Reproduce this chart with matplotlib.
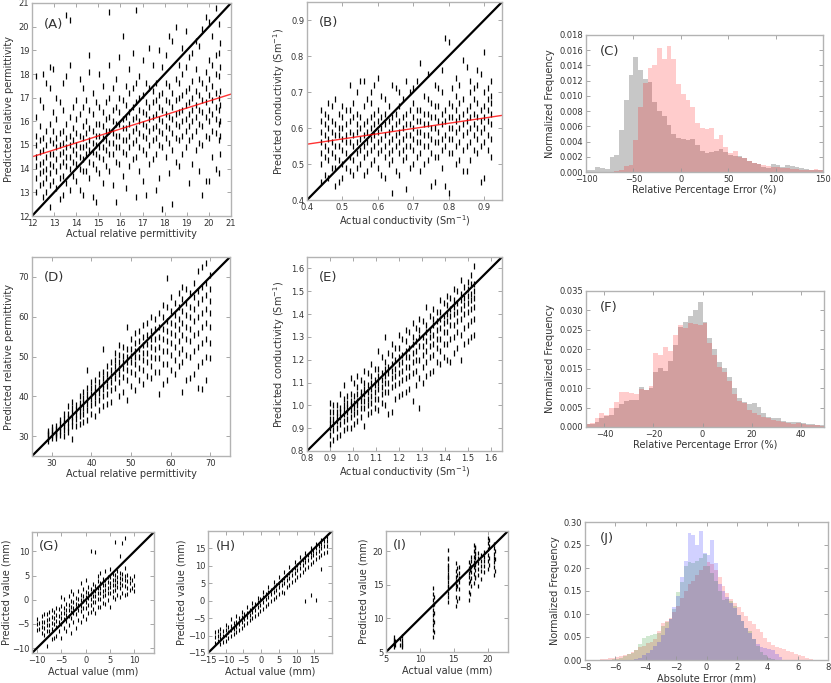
import numpy as np
import matplotlib
matplotlib.use('Agg')
import matplotlib.pyplot as plt

# ---------------------------------------------------------------------
# Values
# ---------------------------------------------------------------------

# (A) relative permittivity, model 1: columns of actual values and predicted values
a_cols = [12.2, 12.5, 12.8, 13.1, 13.4, 13.7, 14.0, 14.3, 14.6, 14.9, 15.2, 15.5, 15.8, 16.1, 16.4,
          16.7, 17.0, 17.3, 17.6, 17.9, 18.2, 18.5, 18.8, 19.1, 19.4, 19.7, 20.0, 20.3, 20.5,
          12.35, 12.65, 12.95, 13.25, 13.55, 13.85, 14.15, 14.45, 14.75, 15.05, 15.35, 15.65,
          15.95, 16.25, 16.55, 16.85, 17.15, 17.45, 17.75, 18.05, 18.35, 18.65, 18.95, 19.25,
          19.55, 19.85, 20.15, 20.45]
a_vals = [[13.0, 13.6, 14.1, 14.5, 15.0, 15.4, 16.2, 17.9],
          [12.8, 13.4, 13.9, 14.3, 14.8, 15.3, 16.6, 18.0],
          [12.4, 13.3, 13.8, 14.2, 14.6, 15.2, 15.9, 17.4, 18.3],
          [13.2, 13.9, 14.4, 14.9, 15.3, 16.1, 17.0],
          [12.9, 13.7, 14.3, 14.7, 15.1, 15.6, 16.5, 17.6],
          [13.1, 14.0, 14.5, 15.0, 15.4, 16.2, 18.4, 20.3],
          [13.5, 14.2, 14.6, 15.0, 15.5, 16.1, 16.9],
          [12.9, 13.9, 14.4, 14.9, 15.3, 15.8, 16.6, 17.4],
          [13.6, 14.3, 14.8, 15.2, 15.7, 16.5, 18.1, 18.8],
          [12.6, 14.0, 14.6, 15.0, 15.4, 15.9, 16.8],
          [13.4, 14.4, 14.9, 15.3, 15.8, 16.4, 17.5],
          [13.9, 14.6, 15.1, 15.6, 16.2, 17.0, 18.4, 20.6],
          [12.6, 14.3, 14.9, 15.4, 15.9, 16.6, 17.8],
          [13.7, 14.7, 15.2, 15.7, 16.1, 16.9, 19.6],
          [14.1, 14.9, 15.4, 15.9, 16.4, 17.2, 18.2],
          [12.8, 14.5, 15.2, 15.7, 16.2, 16.8, 17.6, 20.7],
          [13.5, 14.8, 15.4, 15.9, 16.4, 17.1, 18.6],
          [14.2, 15.0, 15.6, 16.1, 16.6, 17.4, 19.1],
          [13.1, 14.6, 15.3, 15.8, 16.3, 16.9, 17.6],
          [12.3, 14.9, 15.5, 16.0, 16.5, 17.2, 18.3],
          [13.8, 15.1, 15.7, 16.2, 16.8, 17.5, 19.6],
          [14.3, 15.3, 15.9, 16.3, 16.9, 17.8, 20.0],
          [14.6, 15.4, 16.0, 16.5, 17.1, 18.0, 19.1],
          [13.4, 15.2, 15.8, 16.3, 16.8, 17.4, 18.7],
          [14.8, 15.6, 16.2, 16.7, 17.3, 18.2, 19.4],
          [12.9, 15.0, 15.8, 16.4, 16.9, 17.6, 19.9],
          [13.5, 15.3, 16.0, 16.5, 17.1, 17.8, 18.6, 20.2],
          [14.0, 15.5, 16.1, 16.6, 17.2, 18.0, 18.8, 20.8],
          [14.6, 15.4, 16.0, 16.7, 17.3, 18.3, 19.3],
          [13.3, 13.8, 14.2, 14.7, 15.2, 15.8, 16.9],
          [13.0, 13.6, 14.0, 14.5, 15.0, 15.6, 17.6],
          [13.5, 14.1, 14.6, 15.1, 15.6, 16.4, 18.2],
          [12.7, 13.6, 14.1, 14.6, 15.0, 15.5, 16.8],
          [13.4, 14.1, 14.5, 14.9, 15.3, 15.9, 17.9, 20.5],
          [13.7, 14.3, 14.8, 15.2, 15.7, 16.6],
          [13.1, 14.0, 14.5, 14.9, 15.4, 16.3, 17.8],
          [13.9, 14.6, 15.0, 15.5, 16.0, 16.9],
          [12.8, 14.2, 14.7, 15.1, 15.6, 16.3, 17.2],
          [13.8, 14.5, 14.9, 15.4, 15.9, 16.6, 18.0],
          [14.1, 14.8, 15.2, 15.6, 16.1, 16.8],
          [13.3, 14.6, 15.1, 15.5, 16.0, 16.5, 17.4],
          [14.2, 14.9, 15.4, 15.9, 16.4, 17.0, 18.7],
          [13.2, 14.6, 15.2, 15.7, 16.2, 16.7, 17.5],
          [14.4, 15.1, 15.6, 16.1, 16.6, 17.4, 18.9],
          [13.9, 14.9, 15.5, 16.0, 16.5, 17.0, 17.9],
          [12.9, 14.6, 15.3, 15.8, 16.3, 16.8, 17.6],
          [14.4, 15.2, 15.7, 16.2, 16.8, 17.3, 18.4],
          [13.6, 15.0, 15.6, 16.1, 16.6, 17.1, 19.0],
          [14.5, 15.3, 15.8, 16.3, 16.9, 17.6, 18.8],
          [12.5, 14.8, 15.5, 16.1, 16.6, 17.2, 19.4],
          [14.1, 15.2, 15.8, 16.4, 17.0, 17.6, 18.4],
          [14.9, 15.6, 16.1, 16.7, 17.3, 18.3, 19.8],
          [14.2, 15.4, 16.0, 16.5, 17.0, 17.7, 18.9],
          [13.9, 15.1, 15.9, 16.5, 17.1, 17.8, 19.2],
          [13.5, 15.4, 16.2, 16.8, 17.4, 18.1, 20.4],
          [14.5, 15.6, 16.3, 16.9, 17.5, 18.4, 19.6],
          [13.8, 15.2, 15.9, 16.5, 17.0, 17.9, 18.9, 20.1]]
a_fit = [14.5, 17.15]   # red fit line at x = 12 and x = 21

# (B) conductivity, model 1
b_cols = [0.44, 0.46, 0.48, 0.50, 0.52, 0.54, 0.56, 0.58, 0.60, 0.62, 0.64, 0.66, 0.68,
          0.70, 0.72, 0.74, 0.76, 0.78, 0.80, 0.82, 0.84, 0.86, 0.88, 0.90, 0.92,
          0.45, 0.47, 0.49, 0.51, 0.53, 0.55, 0.57, 0.59, 0.61, 0.63, 0.65, 0.67,
          0.69, 0.71, 0.73, 0.75, 0.77, 0.79, 0.81, 0.83, 0.85, 0.87, 0.89, 0.91]
b_vals = [[0.45, 0.50, 0.53, 0.56, 0.59, 0.62, 0.65],
          [0.46, 0.51, 0.54, 0.57, 0.60, 0.63, 0.67],
          [0.44, 0.49, 0.52, 0.55, 0.58, 0.61, 0.68],
          [0.46, 0.50, 0.54, 0.57, 0.60, 0.63, 0.66],
          [0.48, 0.52, 0.56, 0.59, 0.62, 0.65, 0.72],
          [0.49, 0.53, 0.56, 0.59, 0.61, 0.64, 0.70],
          [0.47, 0.52, 0.55, 0.58, 0.61, 0.66, 0.73],
          [0.50, 0.54, 0.57, 0.60, 0.63, 0.67, 0.70],
          [0.49, 0.53, 0.56, 0.59, 0.62, 0.65, 0.74],
          [0.46, 0.52, 0.55, 0.58, 0.61, 0.64, 0.68],
          [0.42, 0.51, 0.54, 0.57, 0.60, 0.63, 0.72],
          [0.47, 0.53, 0.56, 0.59, 0.62, 0.66, 0.70],
          [0.43, 0.52, 0.55, 0.58, 0.61, 0.64, 0.73],
          [0.50, 0.54, 0.57, 0.60, 0.63, 0.67, 0.71],
          [0.48, 0.53, 0.56, 0.59, 0.62, 0.65, 0.78],
          [0.51, 0.55, 0.58, 0.61, 0.64, 0.68, 0.75],
          [0.45, 0.52, 0.56, 0.60, 0.63, 0.66, 0.72],
          [0.49, 0.54, 0.57, 0.61, 0.64, 0.70, 0.76],
          [0.42, 0.53, 0.57, 0.60, 0.63, 0.67, 0.84],
          [0.50, 0.55, 0.59, 0.62, 0.65, 0.69, 0.74],
          [0.48, 0.54, 0.58, 0.61, 0.64, 0.68, 0.79],
          [0.51, 0.56, 0.60, 0.63, 0.66, 0.70, 0.73],
          [0.53, 0.57, 0.60, 0.63, 0.67, 0.72, 0.76],
          [0.46, 0.56, 0.60, 0.63, 0.66, 0.70, 0.81],
          [0.52, 0.57, 0.61, 0.64, 0.67, 0.69, 0.73],
          [0.47, 0.52, 0.55, 0.58, 0.61, 0.64],
          [0.49, 0.53, 0.56, 0.59, 0.62, 0.66],
          [0.45, 0.51, 0.55, 0.58, 0.60, 0.64],
          [0.49, 0.53, 0.56, 0.58, 0.61, 0.65],
          [0.47, 0.51, 0.55, 0.58, 0.63, 0.67],
          [0.50, 0.54, 0.57, 0.60, 0.63, 0.73],
          [0.48, 0.53, 0.56, 0.59, 0.62, 0.68],
          [0.51, 0.55, 0.58, 0.61, 0.64, 0.72],
          [0.47, 0.54, 0.57, 0.60, 0.63, 0.69],
          [0.50, 0.53, 0.56, 0.59, 0.62, 0.66],
          [0.48, 0.55, 0.58, 0.61, 0.64, 0.71],
          [0.51, 0.54, 0.57, 0.60, 0.63, 0.68],
          [0.49, 0.55, 0.58, 0.61, 0.65, 0.70],
          [0.52, 0.56, 0.59, 0.62, 0.65, 0.73],
          [0.50, 0.55, 0.58, 0.61, 0.64, 0.69],
          [0.44, 0.53, 0.57, 0.60, 0.63, 0.67],
          [0.52, 0.56, 0.59, 0.62, 0.66, 0.71],
          [0.44, 0.55, 0.58, 0.62, 0.65, 0.85],
          [0.53, 0.57, 0.60, 0.63, 0.66, 0.71],
          [0.51, 0.56, 0.60, 0.63, 0.67, 0.72],
          [0.48, 0.55, 0.59, 0.62, 0.65, 0.77],
          [0.54, 0.58, 0.61, 0.64, 0.68, 0.71],
          [0.45, 0.55, 0.59, 0.62, 0.65, 0.75],
          [0.54, 0.58, 0.62, 0.65, 0.68, 0.71]]
b_fit = [0.555, 0.635]  # red fit line at x = 0.4 and x = 0.95

# (C) relative percentage error histograms, bins of 5 % from -100 to 150
c_gray = [0.0002, 0.0003, 0.0006, 0.0005, 0.0004, 0.0020, 0.0022, 0.0055, 0.0095, 0.0128,
          0.0151, 0.0134, 0.0122, 0.0118, 0.0092, 0.0080, 0.0074, 0.0062, 0.0050, 0.0045,
          0.0043, 0.0042, 0.0043, 0.0035, 0.0028, 0.0025, 0.0026, 0.0028, 0.0030, 0.0026,
          0.0022, 0.0021, 0.0021, 0.0019, 0.0014, 0.0012, 0.0010, 0.0007, 0.0005, 0.0010,
          0.0009, 0.0006, 0.0009, 0.0008, 0.0006, 0.0005, 0.0004, 0.0003, 0.0003, 0.0002]
c_pink = [0.0, 0.0, 0.0, 0.0, 0.0, 0.0, 0.0001, 0.0002, 0.0008, 0.0009,
          0.0042, 0.0086, 0.0117, 0.0137, 0.0140, 0.0163, 0.0148, 0.0165, 0.0148, 0.0115,
          0.0103, 0.0095, 0.0085, 0.0065, 0.0058, 0.0057, 0.0058, 0.0043, 0.0048, 0.0033,
          0.0025, 0.0028, 0.0020, 0.0018, 0.0015, 0.0012, 0.0010, 0.0009, 0.0008, 0.0007,
          0.0006, 0.0005, 0.0005, 0.0004, 0.0004, 0.0003, 0.0003, 0.0003, 0.0004, 0.0002]

# (D) relative permittivity, model 2
d_cols = [29, 31, 33, 35, 37, 39, 41, 43, 45, 47, 49, 51, 53, 55, 57, 59, 61, 63, 65, 67, 69, 70,
          30, 32, 34, 36, 38, 40, 42, 44, 46, 48, 50, 52, 54, 56, 58, 60, 62, 64, 66, 68]
d_vals = [[28.8, 29.6, 30.3, 30.9, 31.4],
          [29.5, 30.3, 30.8, 31.0, 31.8, 32.6],
          [30.0, 31.6, 32.5, 33.3, 34.4, 35.5],
          [29.2, 32.5, 33.8, 34.8, 35.7, 37.0, 38.5],
          [33.0, 35.1, 36.3, 37.2, 38.4, 40.0],
          [34.0, 36.5, 38.0, 39.2, 40.5, 42.0, 46.5],
          [35.0, 38.3, 39.8, 41.0, 42.4, 44.0],
          [37.5, 40.0, 41.8, 43.0, 44.5, 46.2, 51.8],
          [38.5, 41.5, 43.5, 45.0, 46.5, 48.5],
          [40.0, 43.5, 45.5, 47.0, 48.5, 50.5, 53.0],
          [39.0, 44.0, 46.5, 48.5, 50.0, 52.0, 57.5],
          [41.5, 45.5, 48.0, 50.0, 51.5, 53.5, 56.0],
          [43.0, 46.5, 49.0, 51.0, 53.0, 55.0, 58.0],
          [44.5, 47.5, 50.0, 52.5, 54.5, 56.5, 60.0],
          [40.5, 46.0, 49.5, 52.5, 55.0, 57.5, 61.0],
          [44.0, 48.0, 51.5, 54.0, 56.5, 59.0, 62.5, 69.8],
          [45.5, 49.0, 52.5, 55.5, 58.0, 60.5, 63.5],
          [41.0, 48.5, 52.0, 55.5, 58.5, 61.5, 64.5, 67.5],
          [44.5, 50.0, 54.0, 57.0, 60.0, 62.5, 66.0],
          [42.0, 47.5, 52.5, 56.0, 60.0, 63.5, 66.5, 71.5],
          [44.0, 50.0, 54.5, 58.5, 62.0, 65.5, 68.5, 73.5],
          [49.5, 53.5, 57.5, 61.0, 64.0, 67.0, 70.5],
          [29.4, 30.2, 30.8, 31.6, 32.3],
          [30.4, 31.2, 32.0, 33.0, 34.0],
          [31.0, 32.4, 33.5, 34.6, 35.6, 37.5],
          [32.5, 34.2, 35.5, 36.6, 37.8],
          [33.5, 35.5, 37.0, 38.2, 39.6, 41.2],
          [35.5, 37.8, 39.2, 40.5, 42.0, 43.6],
          [36.5, 39.0, 40.8, 42.2, 43.6, 45.5],
          [38.0, 40.5, 42.5, 44.0, 45.6, 47.5],
          [42.0, 44.5, 46.0, 47.5, 49.0, 51.0],
          [41.0, 44.8, 47.0, 48.5, 50.2, 52.5],
          [42.5, 46.0, 48.5, 50.2, 52.0, 54.5],
          [44.0, 47.2, 49.8, 51.8, 53.8, 56.5],
          [45.0, 48.5, 51.0, 53.2, 55.5, 58.5],
          [46.0, 49.5, 52.0, 54.5, 56.8, 59.5],
          [43.0, 48.0, 51.5, 54.5, 57.0, 60.0, 63.0],
          [46.5, 50.5, 53.5, 56.0, 58.5, 61.5, 65.0],
          [47.5, 51.0, 54.0, 57.0, 59.5, 62.5, 66.0],
          [44.0, 50.5, 54.5, 57.5, 60.5, 63.5, 67.0],
          [45.5, 51.5, 55.5, 59.0, 62.0, 65.0, 68.5],
          [41.8, 48.5, 53.5, 57.5, 61.0, 64.5, 67.5, 72.5]]

# (E) conductivity, model 2
e_cols = [0.90, 0.93, 0.96, 0.99, 1.02, 1.05, 1.08, 1.11, 1.14, 1.17, 1.20,
          1.23, 1.26, 1.29, 1.32, 1.35, 1.38, 1.41, 1.44, 1.47, 1.50, 1.53,
          0.915, 0.945, 0.975, 1.005, 1.035, 1.065, 1.095, 1.125, 1.155, 1.185, 1.215,
          1.245, 1.275, 1.305, 1.335, 1.365, 1.395, 1.425, 1.455, 1.485, 1.515]
e_vals = [[0.83, 0.87, 0.90, 0.92, 0.94, 0.97, 1.01],
          [0.86, 0.90, 0.93, 0.95, 0.97, 1.00],
          [0.89, 0.93, 0.96, 0.98, 1.00, 1.03, 1.09],
          [0.90, 0.95, 0.98, 1.00, 1.02, 1.05, 1.12],
          [0.93, 0.97, 1.00, 1.02, 1.05, 1.08, 1.13],
          [0.91, 0.99, 1.02, 1.05, 1.07, 1.10, 1.15],
          [0.97, 1.01, 1.04, 1.07, 1.10, 1.13, 1.18],
          [0.98, 1.03, 1.07, 1.10, 1.13, 1.16, 1.24],
          [1.00, 1.06, 1.10, 1.13, 1.16, 1.19, 1.30],
          [0.97, 1.08, 1.12, 1.15, 1.18, 1.22, 1.27],
          [1.04, 1.10, 1.14, 1.18, 1.21, 1.25, 1.31],
          [1.06, 1.12, 1.17, 1.21, 1.24, 1.28, 1.33],
          [1.02, 1.14, 1.19, 1.23, 1.27, 1.30, 1.36],
          [0.99, 1.12, 1.20, 1.26, 1.30, 1.33, 1.38],
          [1.13, 1.19, 1.24, 1.28, 1.32, 1.35, 1.43],
          [1.15, 1.22, 1.27, 1.31, 1.35, 1.38, 1.42],
          [1.18, 1.24, 1.29, 1.34, 1.38, 1.41, 1.46],
          [1.20, 1.27, 1.32, 1.37, 1.40, 1.44, 1.48],
          [1.23, 1.30, 1.35, 1.40, 1.43, 1.46, 1.51],
          [1.20, 1.31, 1.38, 1.42, 1.46, 1.49, 1.55],
          [1.28, 1.35, 1.41, 1.45, 1.48, 1.51, 1.54],
          [1.31, 1.38, 1.43, 1.47, 1.50, 1.53, 1.61],
          [0.85, 0.89, 0.92, 0.94, 0.97, 1.00],
          [0.87, 0.92, 0.95, 0.97, 0.99, 1.05],
          [0.90, 0.94, 0.97, 0.99, 1.01, 1.04],
          [0.92, 0.96, 0.99, 1.01, 1.04, 1.10],
          [0.95, 0.99, 1.02, 1.04, 1.06, 1.11],
          [0.96, 1.00, 1.03, 1.06, 1.09, 1.14],
          [0.99, 1.03, 1.06, 1.09, 1.11, 1.16],
          [1.01, 1.05, 1.08, 1.11, 1.14, 1.21],
          [0.96, 1.06, 1.10, 1.14, 1.17, 1.23],
          [1.03, 1.09, 1.13, 1.16, 1.20, 1.25],
          [1.05, 1.11, 1.15, 1.19, 1.22, 1.29],
          [1.07, 1.13, 1.17, 1.21, 1.25, 1.32],
          [1.09, 1.15, 1.20, 1.24, 1.28, 1.34],
          [1.10, 1.17, 1.22, 1.26, 1.30, 1.37],
          [1.14, 1.21, 1.26, 1.30, 1.33, 1.39],
          [1.19, 1.25, 1.29, 1.33, 1.37, 1.41],
          [1.21, 1.27, 1.32, 1.36, 1.39, 1.45],
          [1.19, 1.29, 1.35, 1.39, 1.42, 1.47],
          [1.25, 1.32, 1.37, 1.41, 1.45, 1.50],
          [1.27, 1.34, 1.40, 1.44, 1.47, 1.52],
          [1.30, 1.37, 1.42, 1.46, 1.49, 1.53, 1.57]]

# (F) relative percentage error histograms, bins of 2 % from -48 to 50
f_gray = [0.0008, 0.0009, 0.0012, 0.0022, 0.0028, 0.0030, 0.0048, 0.0058, 0.0068, 0.0070,
          0.0070, 0.0103, 0.0095, 0.0100, 0.0142, 0.0152, 0.0145, 0.0170, 0.0210, 0.0258,
          0.0270, 0.0285, 0.0302, 0.0322, 0.0270, 0.0230, 0.0200, 0.0168, 0.0152, 0.0128,
          0.0100, 0.0075, 0.0065, 0.0058, 0.0062, 0.0052, 0.0035, 0.0026, 0.0024, 0.0022,
          0.0016, 0.0014, 0.0012, 0.0014, 0.0010, 0.0009, 0.0008, 0.0006, 0.0005]
f_pink = [0.0008, 0.0010, 0.0022, 0.0035, 0.0032, 0.0050, 0.0065, 0.0090, 0.0090, 0.0088,
          0.0085, 0.0098, 0.0095, 0.0105, 0.0190, 0.0185, 0.0206, 0.0195, 0.0236, 0.0262,
          0.0256, 0.0268, 0.0266, 0.0262, 0.0268, 0.0215, 0.0185, 0.0155, 0.0142, 0.0118,
          0.0085, 0.0068, 0.0062, 0.0045, 0.0036, 0.0030, 0.0026, 0.0022, 0.0018, 0.0015,
          0.0012, 0.0010, 0.0008, 0.0010, 0.0007, 0.0006, 0.0004, 0.0004, 0.0003]

# (G), (H), (I) position estimates in mm
g_cols = [-10, -9, -8, -7, -6, -5, -4, -3, -2, -1, 0, 1, 2, 3, 4, 5, 6, 7, 8, 9, 10,
          -9.5, -8.5, -7.5, -6.5, -5.5, -4.5, -3.5, -2.5, -1.5, -0.5, 0.5, 1.5, 2.5, 3.5,
          4.5, 5.5, 6.5, 7.5, 8.5, 9.5]
g_vals = [[-6.2, -5.0, -4.0],
          [-6.8, -5.6, -4.5, -3.3],
          [-9.5, -6.5, -5.2, -4.2, -3.0],
          [-8.2, -6.0, -4.8, -3.6, -2.2],
          [-7.5, -5.6, -4.3, -3.2, -1.8],
          [-8.0, -5.0, -3.8, -2.7, -1.2, 0.5],
          [-6.4, -4.3, -3.2, -2.1, -0.8],
          [-6.8, -3.8, -2.6, -1.5, -0.2, 1.8],
          [-5.8, -3.0, -1.8, -0.8, 0.4],
          [-4.5, -2.4, -1.2, -0.1, 1.0, 3.5],
          [-4.0, -1.8, -0.5, 0.5, 1.6, 4.0],
          [-2.5, -1.0, 0.2, 1.2, 2.3, 10.0],
          [-2.8, -0.5, 0.8, 1.8, 2.9, 9.8],
          [-1.5, 0.2, 1.4, 2.4, 3.5, 5.5],
          [-0.8, 0.9, 2.0, 3.0, 4.0, 6.0],
          [-1.5, 1.5, 2.6, 3.5, 4.6, 6.3],
          [0.2, 2.0, 3.0, 4.1, 5.2, 12.0],
          [0.5, 2.4, 3.5, 4.5, 5.6, 9.0],
          [1.0, 2.9, 4.0, 5.0, 6.5, 12.8],
          [2.0, 3.5, 4.5],
          [1.8, 3.0, 5.0],
          [-6.0, -4.8],
          [-7.2, -5.8, -4.6, -3.0],
          [-6.5, -5.3, -4.0, -2.6],
          [-7.8, -5.0, -3.8, -2.6],
          [-6.5, -4.6, -3.4, -2.0],
          [-5.8, -4.0, -2.8, -1.6, 0.2],
          [-5.2, -3.4, -2.2, -1.0, 0.8],
          [-4.6, -2.8, -1.6, -0.4, 1.2],
          [-4.2, -2.2, -1.0, 0.2, 1.8],
          [-3.4, -1.6, -0.3, 0.8, 2.2],
          [-2.8, -1.0, 0.3, 1.3, 2.6],
          [-2.0, -0.4, 0.8, 1.9, 3.2],
          [-1.4, 0.2, 1.4, 2.5, 3.8, 5.0],
          [-0.6, 0.8, 1.9, 3.0, 4.2],
          [0.0, 1.4, 2.5, 3.6, 4.8],
          [0.6, 1.8, 3.0, 4.0, 5.4],
          [1.0, 2.6, 3.6, 4.6, 6.0],
          [1.5, 3.0, 4.2, 5.4, 11.8],
          [1.2, 2.5, 3.8, 5.2],
          [2.5, 4.0]]

h_cols = [-13, -11.5, -10, -8.5, -7, -5.5, -4, -2.5, -1, 0.5, 2, 3.5, 5, 6.5, 8, 9.5,
          11, 12.5, 14, 15.5, 17, 18.5,
          -12.25, -10.75, -9.25, -7.75, -6.25, -4.75, -3.25, -1.75, -0.25, 1.25, 2.75,
          4.25, 5.75, 7.25, 8.75, 10.25, 11.75, 13.25, 14.75, 16.25, 17.75]
h_vals = [[-12.0, -10.5, -9.0],
          [-12.3, -10.8, -9.6, -8.0],
          [-11.5, -9.8, -8.4, -7.0],
          [-10.2, -8.5, -7.2, -5.2],
          [-9.0, -7.4, -6.0, -4.5],
          [-7.8, -6.0, -4.6, -3.2],
          [-6.5, -4.8, -3.4, -1.8],
          [-5.0, -3.2, -2.0, -0.6],
          [-3.8, -1.8, -0.5, 0.9],
          [-2.4, -0.5, 1.0, 2.5],
          [-1.0, 1.0, 2.4, 4.0],
          [0.5, 2.5, 3.8, 5.4],
          [1.8, 3.8, 5.2, 6.8],
          [2.2, 5.2, 6.6, 8.2],
          [4.5, 6.6, 8.0, 9.6],
          [6.0, 8.0, 9.4, 11.0],
          [7.5, 9.4, 10.8, 12.4],
          [0.0, 9.0, 11.0, 12.2, 13.8],
          [1.5, 10.5, 12.4, 13.6, 15.2],
          [0.2, 12.0, 13.8, 15.0, 16.4],
          [9.2, 13.2, 15.0, 16.4, 17.5],
          [14.0, 15.8, 17.0, 18.2],
          [-11.5, -10.0, -8.6],
          [-11.8, -10.2, -8.8],
          [-10.6, -9.0, -7.6],
          [-9.6, -8.0, -6.4],
          [-8.4, -6.6, -5.0],
          [-7.0, -5.2, -3.8],
          [-5.6, -4.0, -2.6],
          [-4.4, -2.6, -1.0],
          [-3.0, -1.2, 0.4],
          [-1.6, 0.4, 1.8],
          [-0.2, 1.8, 3.2],
          [1.2, 3.2, 4.6],
          [2.6, 4.6, 6.0],
          [4.0, 6.0, 7.4],
          [5.4, 7.4, 8.8],
          [6.8, 8.8, 10.2],
          [8.2, 10.2, 11.6],
          [9.8, 11.6, 13.0],
          [11.2, 13.0, 14.4],
          [12.4, 14.4, 15.8],
          [13.6, 15.6, 17.0]]

i_cols = [6.2, 7.3, 12.0, 14.1, 15.4, 15.7, 17.3, 17.6, 18.0, 18.2, 18.6, 19.0, 19.5, 20.1, 21.0,
          6.4, 7.1, 12.1, 14.2, 15.5, 17.4, 18.1, 20.2, 21.1]
i_vals = [[5.8, 6.2, 6.5, 6.8, 7.3],
          [5.8, 6.1, 6.4, 6.8, 7.4],
          [7.3, 8.2, 9.0, 9.8, 10.5, 11.3, 12.0, 12.8, 13.6, 14.5],
          [12.5, 13.8, 14.6, 15.4, 16.0, 16.6, 17.2, 18.0, 19.0, 20.1],
          [11.8, 13.2, 14.3, 15.0, 15.6, 16.2, 17.0, 18.2],
          [13.0, 14.4, 15.4, 16.0, 16.8, 17.6],
          [12.8, 14.0, 15.2, 16.1, 16.8, 17.5, 18.4],
          [14.8, 16.0, 16.9, 17.7, 18.5, 19.1],
          [15.2, 16.6, 17.6, 18.4, 19.2, 20.0, 20.9],
          [16.0, 17.2, 18.2, 19.0, 19.8, 20.6],
          [14.8, 16.4, 17.4, 18.2, 19.0, 19.8],
          [15.9, 17.0, 17.8, 18.6, 19.4],
          [16.9, 17.8, 18.5, 19.2, 19.9],
          [17.4, 18.6, 19.5, 20.3, 21.2, 22.0],
          [16.4, 17.6, 18.4, 19.0, 19.6, 20.4, 21.0],
          [6.0, 6.6],
          [6.0, 6.9],
          [8.0, 9.4, 10.8, 12.2, 13.2],
          [13.2, 14.8, 16.2, 17.6, 18.8],
          [12.6, 14.8, 16.5, 17.5],
          [13.6, 15.6, 17.2, 18.0],
          [16.2, 18.0, 19.6, 20.4],
          [18.0, 19.0, 20.8, 21.6],
          [17.0, 18.8, 20.0]]

# (J) absolute error histograms, bins of 0.25 mm from -7 to 7
j_pink = [0.002, 0.003, 0.005, 0.004, 0.006, 0.008, 0.010, 0.014, 0.018, 0.022,
          0.028, 0.030, 0.036, 0.040, 0.045, 0.062, 0.080, 0.085, 0.092, 0.105,
          0.118, 0.135, 0.150, 0.165, 0.172, 0.185, 0.195, 0.205, 0.212, 0.208,
          0.195, 0.180, 0.160, 0.145, 0.132, 0.125, 0.115, 0.105, 0.095, 0.085,
          0.078, 0.068, 0.060, 0.048, 0.040, 0.032, 0.028, 0.026, 0.024, 0.020,
          0.018, 0.012, 0.010, 0.008, 0.004, 0.002]
j_green = [0.0, 0.0, 0.001, 0.002, 0.003, 0.005, 0.008, 0.012, 0.016, 0.022,
           0.035, 0.048, 0.052, 0.055, 0.056, 0.058, 0.075, 0.082, 0.090, 0.110,
           0.148, 0.170, 0.205, 0.212, 0.210, 0.215, 0.222, 0.230, 0.205, 0.190,
           0.172, 0.150, 0.130, 0.132, 0.128, 0.118, 0.098, 0.085, 0.070, 0.062,
           0.045, 0.030, 0.018, 0.010, 0.005, 0.003, 0.0, 0.0, 0.0, 0.0,
           0.0, 0.0, 0.0, 0.0, 0.0, 0.0]
j_blue = [0.0, 0.0, 0.0, 0.0, 0.0, 0.0, 0.0, 0.0, 0.0, 0.002,
          0.005, 0.010, 0.015, 0.022, 0.030, 0.040, 0.055, 0.070, 0.090, 0.115,
          0.140, 0.180, 0.215, 0.276, 0.272, 0.250, 0.280, 0.232, 0.228, 0.260,
          0.210, 0.165, 0.150, 0.138, 0.125, 0.112, 0.098, 0.085, 0.070, 0.058,
          0.045, 0.035, 0.028, 0.026, 0.024, 0.022, 0.014, 0.006, 0.0, 0.0,
          0.0, 0.0, 0.0, 0.0, 0.0, 0.0]

# ---------------------------------------------------------------------
# Figure and styling
# ---------------------------------------------------------------------
W, H = 831, 683
fig = plt.figure(figsize=(W / 100, H / 100), dpi=100)

TXT = '0.2'
plt.rcParams['font.family'] = 'DejaVu Sans'
plt.rcParams['mathtext.fontset'] = 'dejavusans'


def box(l, t, r, b):
    # pixel box -> figure fraction
    return [l / W, 1 - b / H, (r - l) / W, (b - t) / H]


def style(ax, xlabel, ylabel, tag, ypad=3):
    for s in ax.spines.values():
        s.set_color('0.7')
        s.set_linewidth(1.0)
    ax.tick_params(direction='in', top=True, right=True, length=3, width=0.6,
                   color='0.6', labelcolor=TXT, labelsize=6, pad=2)
    ax.set_xlabel(xlabel, fontsize=7, color=TXT, labelpad=1)
    ax.set_ylabel(ylabel, fontsize=7, color=TXT, labelpad=ypad)
    ax.text(0.06, 0.93, tag, transform=ax.transAxes, fontsize=9.5, color=TXT,
            va='top', ha='left')


def flat(cols, vals):
    xs = [c for c, v in zip(cols, vals) for _ in v]
    ys = [y for v in vals for y in v]
    return xs, ys


def scatter_panel(ax, cols, vals, lim, ms=4.2, mew=0.9):
    xs, ys = flat(cols, vals)
    ax.plot(xs, ys, linestyle='none', marker='|', ms=ms, mew=mew, color='k')
    ax.plot(lim, lim, color='k', lw=1.6)
    ax.set_xlim(lim)
    ax.set_ylim(lim)


def hist_panel(ax, start, width, series):
    for vals, col, alpha in series:
        edges = start + width * np.arange(len(vals) + 1)
        ax.stairs(vals, edges, fill=True, color=col, alpha=alpha, linewidth=0)


perm = 'Predicted relative permittivity'
cond = 'Predicted conductivity (Sm$^{-1}$)'
nfreq = 'Normalized Frequency'
rpe = 'Relative Percentage Error (%)'

# (A)
ax = fig.add_axes(box(32, 3, 231, 216))
scatter_panel(ax, a_cols, a_vals, [12, 21])
ax.plot([12, 21], a_fit, color='red', lw=1.0, alpha=0.8)
ax.set_xticks(range(12, 22))
ax.set_yticks(range(12, 22))
style(ax, 'Actual relative permittivity', perm, '(A)')

# (B)
ax = fig.add_axes(box(307, 2, 502, 200))
scatter_panel(ax, b_cols, b_vals, [0.4, 0.95])
ax.plot([0.4, 0.95], b_fit, color='red', lw=1.0, alpha=0.8)
ax.set_xticks([0.4, 0.5, 0.6, 0.7, 0.8, 0.9])
ax.set_yticks([0.4, 0.5, 0.6, 0.7, 0.8, 0.9])
style(ax, 'Actual conductivity (Sm$^{-1}$)', cond, '(B)')

# (C)
ax = fig.add_axes(box(586, 35, 823, 172))
hist_panel(ax, -100, 5, [(c_gray, 'k', 0.22), (c_pink, 'red', 0.2)])
ax.set_xlim(-100, 150)
ax.set_ylim(0, 0.018)
ax.set_xticks([-100, -50, 0, 50, 100, 150])
ax.set_yticks(np.arange(0, 0.0181, 0.002))
ax.yaxis.set_major_formatter('{x:.3f}')
style(ax, rpe, nfreq, '(C)')

# (D)
ax = fig.add_axes(box(32, 257, 230, 456))
scatter_panel(ax, d_cols, d_vals, [25, 75])
ax.set_xticks([30, 40, 50, 60, 70])
ax.set_yticks([30, 40, 50, 60, 70])
style(ax, 'Actual relative permittivity', perm, '(D)')

# (E)
ax = fig.add_axes(box(307, 257, 502, 451))
scatter_panel(ax, e_cols, e_vals, [0.8, 1.65])
ticks = [0.8, 0.9, 1.0, 1.1, 1.2, 1.3, 1.4, 1.5, 1.6]
ax.set_xticks(ticks)
ax.set_yticks(ticks)
style(ax, 'Actual conductivity (Sm$^{-1}$)', cond, '(E)')

# (F)
ax = fig.add_axes(box(586, 291, 824, 427))
hist_panel(ax, -48, 2, [(f_gray, 'k', 0.22), (f_pink, 'red', 0.2)])
ax.set_xlim(-47.5, 49.5)
ax.set_ylim(0, 0.035)
ax.set_xticks([-40, -20, 0, 20, 40])
ax.set_yticks(np.arange(0, 0.0351, 0.005))
ax.yaxis.set_major_formatter('{x:.3f}')
style(ax, rpe, nfreq, '(F)')

# (G)
ax = fig.add_axes(box(32, 532, 154, 653))
scatter_panel(ax, g_cols, g_vals, [-11, 14], ms=2.8, mew=0.8)
ax.set_xticks([-10, -5, 0, 5, 10])
ax.set_yticks([-10, -5, 0, 5, 10])
style(ax, 'Actual value (mm)', 'Predicted value (mm)', '(G)', ypad=0)

# (H)
ax = fig.add_axes(box(208, 531, 332, 653))
scatter_panel(ax, h_cols, h_vals, [-15, 20], ms=2.8, mew=0.8)
ax.set_xticks([-15, -10, -5, 0, 5, 10, 15])
ax.set_yticks([-15, -10, -5, 0, 5, 10, 15])
style(ax, 'Actual value (mm)', 'Predicted value (mm)', '(H)', ypad=1)

# (I)
ax = fig.add_axes(box(386, 531, 508, 652))
scatter_panel(ax, i_cols, i_vals, [5, 23], ms=3.2, mew=0.9)
ax.set_xticks([5, 10, 15, 20])
ax.set_yticks([5, 10, 15, 20])
style(ax, 'Actual value (mm)', 'Predicted value (mm)', '(I)')

# (J)
ax = fig.add_axes(box(585, 522, 828, 660))
hist_panel(ax, -7, 0.25, [(j_pink, 'red', 0.18), (j_green, 'green', 0.18),
                          (j_blue, 'blue', 0.18)])
ax.set_xlim(-8, 8)
ax.set_ylim(0, 0.30)
ax.set_xticks(range(-8, 9, 2))
ax.set_yticks(np.arange(0, 0.301, 0.05))
ax.yaxis.set_major_formatter('{x:.2f}')
style(ax, 'Absolute Error (mm)', nfreq, '(J)')

fig.savefig('out.png', dpi=100)
